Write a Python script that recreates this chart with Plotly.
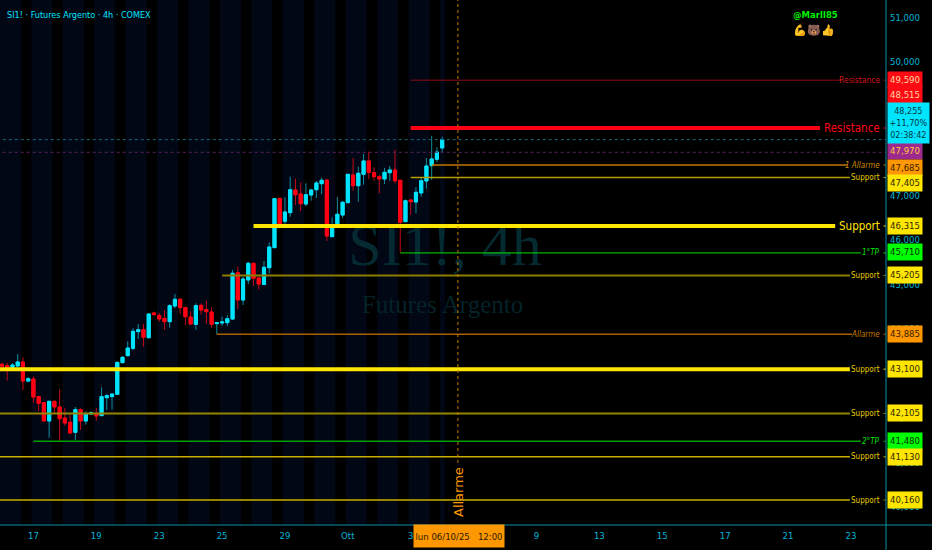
import plotly.graph_objects as go

#### data ####
opens=[43208,43178,43103,43170,43260,42833,42878,42482,42347,41935,42377,42249,42002,41905,41680,42190,41935,42092,42107,42055,
       42459,42482,42534,43245,43402,43567,43942,43986,43807,44361,44308,44241,44166,44518,44668,44481,44271,44106,44533,44436,
       44383,44121,44136,44144,44226,45266,44653,45102,45477,45147,45001,45378,45828,46937,46421,46614,47124,47034,46809,47011,
       47130,47265,47348,46075,46331,46562,46838,47460,47220,47476,47775,47512,47422,47371,47512,47573,47341,46412,46899,46854,
       47056,47326,47670,47813,48067]
highs=[43238,43245,43230,43440,43365,42923,42938,42497,42362,42392,42392,42646,42234,42077,42250,42220,42152,42152,42227,42691,
       42541,42556,43260,43395,43724,44016,44114,44121,44353,44391,44361,44428,44563,44788,44698,44503,44398,44578,44578,44638,
       44488,44144,44278,44316,45327,45401,45176,45513,45491,45163,45529,45949,46928,46944,46960,47422,47377,47296,47274,47139,
       47326,47400,47348,46510,46966,46877,47483,47842,47647,47932,47984,47633,47460,47618,47663,48022,47348,46915,46906,47184,
       47415,47842,48343,48083,48320]
lows=[43133,42841,43095,43155,42631,42804,42347,42160,41935,41561,42085,41493,41830,41658,41508,41733,41853,42077,41942,42047,
      42182,42197,42526,43230,43387,43522,43777,43605,43784,44316,44166,43979,44031,44466,44338,44091,44091,43979,44323,44114,
      44031,43882,44076,44069,44204,44451,44541,45012,44967,44893,44990,45253,45828,46322,46286,46524,46787,46652,46764,46883,
      46944,47027,45978,46075,46331,46488,46832,47108,46861,47243,47371,47332,47049,47258,47332,47274,45715,46405,46562,46600,
      46973,47153,47348,47752,47961]
closes=[43163,43095,43193,43260,42833,42886,42474,42332,41935,42377,42249,41987,41890,41665,42190,41935,42100,42122,42047,42482,
        42504,42541,43253,43365,43575,43949,43986,43814,44338,44323,44226,44166,44526,44668,44481,44278,44114,44526,44428,44391,
        44106,44144,44159,44233,45253,44653,45125,45477,45136,45012,45387,45843,46928,46353,46629,47130,47018,46816,47018,47124,
        47281,47341,46090,46331,46578,46847,47476,47220,47499,47775,47521,47422,47371,47521,47573,47332,46398,46883,46861,47072,
        47332,47663,47820,47977,48255]
bars=list(range(len(closes)))

tick_bars=[6,18,30,42,54,66,78,102,114,126,138,150,162]
tick_labels=['17','19','23','25','29','Ott','3','9','13','15','17','21','23']
price_ticks=[40000,41000,42000,44000,45000,46000,47000,50000,51000]

level_prices=[49590,48515,47685,47405,46315,45710,45205,43885,43100,42105,41480,41130,40160]
level_names=['Resistance','Resistance','1 Allarme','Support','Support','1°TP','Support','Allarme','Support','Support','2°TP','Support','Support']
level_start=[78,78,82,78,48,76,42,41,-1,-1,6,-1,-1]
level_end=[160.3,156.1,161.3,161.8,159,163.9,161.8,162.2,161.8,161.8,163.9,161.8,161.8]

box_texts=['49,590','48,515','47,970','47,685','47,405','46,315','45,710','45,205','43,885','43,100','42,105','41,480','41,130','40,160']

#### styles ####
up='#00E5FF'
up_wick='#0E8E9E'
down='#FF0014'
down_wick='#C40A18'
yellow='#FFE600'
orange='#FF9800'
green='#00FF00'
axis_col='#0A8FA3'
tick_col='#00B4D8'
narrow='DejaVu Sans Condensed'

level_colors=['#8E0E14','#FF0014','#C47400','#B8A000','#FFE600','#00E000','#8C7E00','#A86200','#FFE600','#958500','#00A000','#C8AE00','#958500']
level_widths=[1,4,1.5,1.5,4,1,2,1.5,4,2,1.5,1.5,2]
name_colors=['#D0141C','#FF0014','#D08A00','#E8CC00','#FFE600','#00E000','#E8CC00','#C87800','#E8CC00','#E8CC00','#00E000','#E8CC00','#E8CC00']
name_sizes=[8.5,11.5,8,8,11.5,8,8,8,8,8,8,8,8]
name_italic=[False,False,True,False,False,True,False,True,False,False,True,False,False]

box_y=[80,95.5,151.5,167.5,183,226,252,275,334,369,413,441,457,500]
box_bg=['#FF0A14','#FF0A14','#9C2A8E',orange,yellow,yellow,green,yellow,orange,yellow,yellow,green,yellow,yellow]
box_fg=['#FFD8A0','#FFD8A0','#FFC840','#3A2000','#302800','#302800','#003000','#302800','#3A2000','#302800','#302800','#003000','#302800','#302800']

W,H=932,550
plot_w,plot_h=886,525

def px(v):
    return v/W
def py(v):
    return 1-v/H

fig=go.Figure()

#wicks with dim outline, then the bodies over them
fig.add_trace(go.Candlestick(x=bars,open=opens,high=highs,low=lows,close=closes,whiskerwidth=0,
                             increasing=dict(line=dict(color=up_wick,width=1),fillcolor=up),
                             decreasing=dict(line=dict(color=down_wick,width=1),fillcolor=down)))
body_top=[max(o,c) for o,c in zip(opens,closes)]
body_bot=[min(o,c) for o,c in zip(opens,closes)]
fig.add_trace(go.Candlestick(x=bars,open=opens,high=body_top,low=body_bot,close=closes,whiskerwidth=0,
                             increasing=dict(line=dict(color=up,width=1),fillcolor=up),
                             decreasing=dict(line=dict(color=down,width=1),fillcolor=down)))

#last price and previous level, dotted across the whole pane
fig.add_trace(go.Scatter(x=[-1,170],y=[closes[-1]]*2,mode='lines',line=dict(color='#0F6A78',width=1,dash='dot')))
fig.add_trace(go.Scatter(x=[-1,170],y=[47970]*2,mode='lines',line=dict(color='#5E205E',width=1,dash='dot')))

#levels
for i in range(len(level_prices)):
    fig.add_trace(go.Scatter(x=[level_start[i],level_end[i]],y=[level_prices[i]]*2,mode='lines',
                             line=dict(color=level_colors[i],width=level_widths[i])))
    name=level_names[i]
    if name_italic[i]:
        name='<i>%s</i>'%name
    fig.add_annotation(x=px(881),y=level_prices[i],xref='paper',yref='y',xanchor='right',yanchor='middle',showarrow=False,
                       text=name,font=dict(family=narrow,size=name_sizes[i],color=name_colors[i]),borderpad=0)
    fig.add_shape(type='line',x0=px(883.5),x1=px(886),y0=level_prices[i],y1=level_prices[i],xref='paper',yref='y',
                  line=dict(color=level_colors[i],width=1))

#day session bands
for k in range(-1,14):
    fig.add_shape(type='rect',x0=max(5.6+6*k,-1),x1=min(9.6+6*k,84.5),y0=py(plot_h),y1=1,xref='x',yref='paper',
                  layer='below',line=dict(width=0),fillcolor='#020716')

#watermark, below the candles
fig.add_shape(type='rect',x0=px(340),x1=px(550),y0=py(270),y1=py(205),xref='paper',yref='paper',layer='below',
              line=dict(width=0),fillcolor='rgba(0,0,0,0)',
              label=dict(text='SI1!, 4h',textposition='middle center',font=dict(family='Liberation Serif',size=60,color='#052A32')))
fig.add_shape(type='rect',x0=px(340),x1=px(545),y0=py(318),y1=py(285),xref='paper',yref='paper',layer='below',
              line=dict(width=0),fillcolor='rgba(0,0,0,0)',
              label=dict(text='Futures Argento',textposition='middle center',font=dict(family='Liberation Serif',size=25,color='#04222A')))

#crosshair
fig.add_shape(type='line',x0=87,x1=87,y0=py(463),y1=1,xref='x',yref='paper',line=dict(color='#C47A00',width=1,dash='dot'))
fig.add_annotation(x=px(458),y=py(492),xref='paper',yref='paper',yanchor='middle',showarrow=False,textangle=-90,text='Allarme',
                   font=dict(family='DejaVu Sans',size=13,color=orange))

#axis lines
fig.add_shape(type='line',x0=0,x1=1,y0=py(525),y1=py(525),xref='paper',yref='paper',line=dict(color=axis_col,width=1))
fig.add_shape(type='line',x0=px(886),x1=px(886),y0=0,y1=1,xref='paper',yref='paper',line=dict(color=axis_col,width=1))

#price boxes
for i in range(len(box_texts)):
    fig.add_annotation(x=px(886.7),y=py(box_y[i]),xref='paper',yref='paper',xanchor='left',yanchor='middle',showarrow=False,
                       width=34,height=15.5,borderpad=0,bgcolor=box_bg[i],text=box_texts[i],
                       font=dict(family=narrow,size=9.5,color=box_fg[i]))
fig.add_annotation(x=px(886.7),y=py(123),xref='paper',yref='paper',xanchor='left',yanchor='middle',showarrow=False,
                   width=41,height=40,borderpad=0,bgcolor=up,text='48,255<br>+11,70%<br>02:38:42',
                   font=dict(family=narrow,size=9,color='#003840'))
fig.add_annotation(x=px(458.5),y=py(536),xref='paper',yref='paper',yanchor='middle',showarrow=False,width=90,height=22,borderpad=0,bgcolor=orange,
                   text='lun 06/10/25   12:00',font=dict(family=narrow,size=9.5,color='#2A1800'))

#header and signature
fig.add_annotation(x=px(5),y=py(15),xref='paper',yref='paper',xanchor='left',yanchor='middle',showarrow=False,
                   text='SI1! · Futures Argento · 4h · COMEX',font=dict(family=narrow,size=9,color=up))
fig.add_annotation(x=px(791),y=py(14),xref='paper',yref='paper',xanchor='left',yanchor='middle',showarrow=False,
                   text='<b>@Marll85</b>',font=dict(family=narrow,size=9.5,color='#00F000'))
fig.add_annotation(x=px(791),y=py(29),xref='paper',yref='paper',xanchor='left',yanchor='middle',showarrow=False,
                   text='💪🐻👍',font=dict(size=11,color='#F0B060'))

fig.update_layout(width=W,height=H,margin=dict(l=0,r=0,t=0,b=0),paper_bgcolor='#000000',plot_bgcolor='#000000',
                  showlegend=False,boxmode='overlay',boxgap=0.15,
                  xaxis=dict(domain=[0,plot_w/W],range=[-0.38,168.7],tickmode='array',tickvals=tick_bars,ticktext=tick_labels,
                             showgrid=False,zeroline=False,showline=False,ticks='',rangeslider=dict(visible=False),
                             ticklabelstandoff=3,tickfont=dict(family=narrow,size=9.5,color=tick_col)),
                  yaxis=dict(domain=[1-plot_h/H,1],range=[39599,51391],side='right',tickmode='array',tickvals=price_ticks,
                             tickformat=',d',showgrid=False,zeroline=False,showline=False,ticks='',ticklabelstandoff=3,
                             tickfont=dict(family=narrow,size=9.5,color=tick_col)))

fig.write_html("out.html",config=dict(displayModeBar=False),post_script="document.body.style.margin='0';")
